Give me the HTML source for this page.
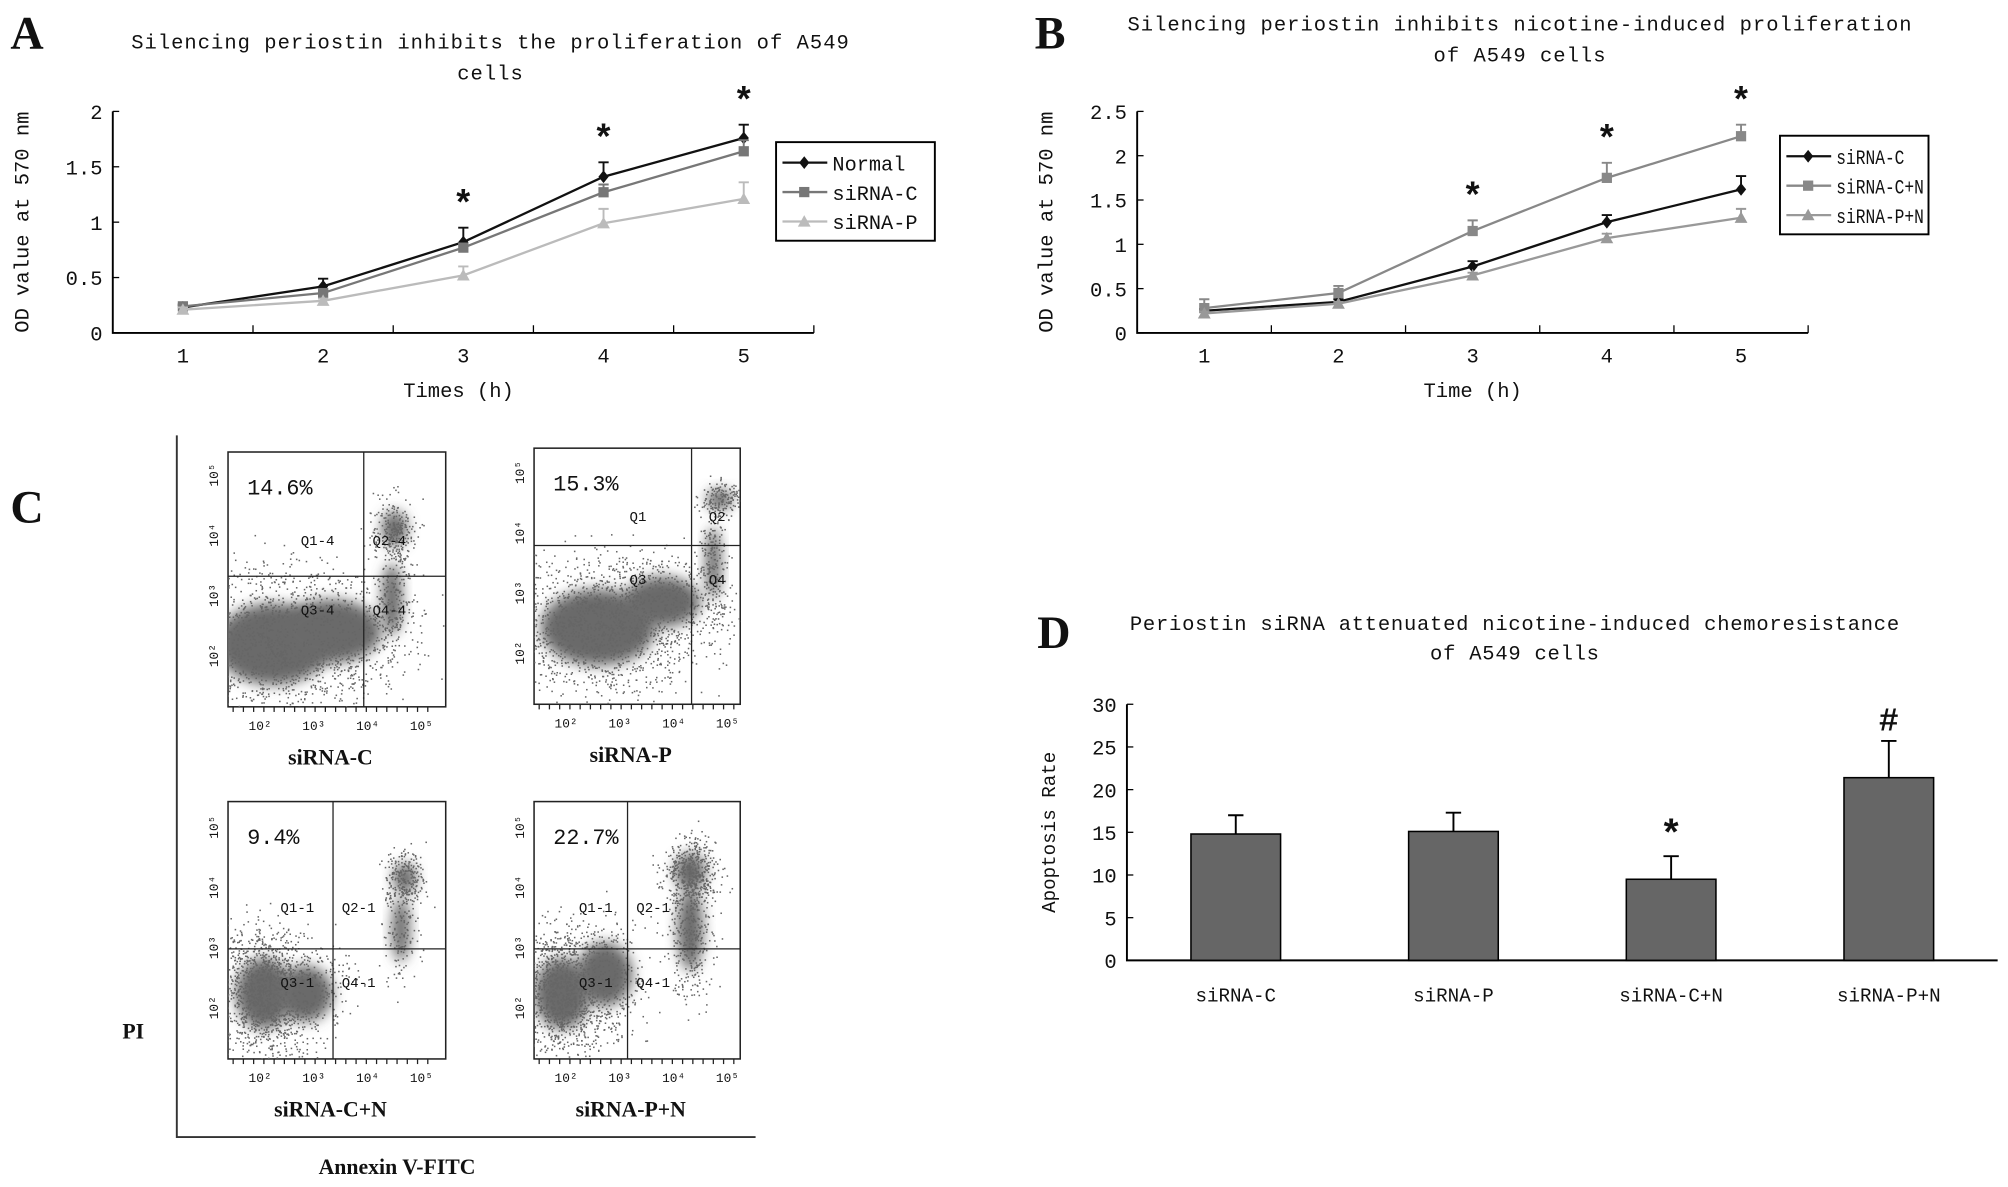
<!DOCTYPE html>
<html><head><meta charset="utf-8"><style>
html,body{margin:0;padding:0;background:#fff;}
svg{display:block;}
text{font-family:"Liberation Mono",monospace;fill:#111;}
.serif{font-family:"Liberation Serif",serif;font-weight:bold;}
</style></head><body>
<svg id="fig" xmlns="http://www.w3.org/2000/svg" width="2008" height="1187" viewBox="0 0 1568 927">
<defs><filter id="blur" x="-50%" y="-50%" width="200%" height="200%"><feGaussianBlur stdDeviation="5"/></filter></defs>
<rect width="1568" height="927" fill="#fff"/>
<text class="serif" x="8" y="38" font-size="36">A</text>
<text class="serif" x="808" y="38" font-size="36">B</text>
<text class="serif" x="8" y="408" font-size="36">C</text>
<text class="serif" x="810" y="506" font-size="36">D</text>
<g id="gA"></g>
<g id="gB"></g>
<g id="gC"></g>
<g id="gD"></g>
</svg>
<script>
// ---- Panel A data ----
const catsA = [1,2,3,4,5];
const normalA = [0.23,0.42,0.82,1.41,1.76];
const normalErrA = [0.02,0.07,0.13,0.13,0.12];
const sircA = [0.24,0.36,0.77,1.27,1.64];
const sircErrA = [0.02,0.03,0.03,0.07,0.10];
const sirpA = [0.21,0.29,0.52,0.99,1.21];
const sirpErrA = [0.02,0.02,0.08,0.13,0.15];
const ticksA = [0,0.5,1,1.5,2];
const starsA = [3,4,5];
// ---- Panel B data ----
const catsB = [1,2,3,4,5];
const sircB = [0.25,0.35,0.75,1.25,1.62];
const sircErrB = [0.02,0.03,0.06,0.08,0.15];
const sircnB = [0.28,0.45,1.15,1.75,2.22];
const sircnErrB = [0.10,0.08,0.12,0.17,0.13];
const sirpnB = [0.22,0.33,0.65,1.07,1.30];
const sirpnErrB = [0.02,0.02,0.03,0.05,0.10];
const ticksB = [0,0.5,1,1.5,2,2.5];
const starsB = [3,4,5];
// ---- Panel D data ----
const catsD = ["siRNA-C","siRNA-P","siRNA-C+N","siRNA-P+N"];
const valsD = [14.8,15.1,9.5,21.4];
const errsD = [2.2,2.2,2.7,4.3];
const marksD = ["","","*","#"];
const ticksD = [0,5,10,15,20,25,30];

const NS="http://www.w3.org/2000/svg";
function el(parent,tag,attrs,txt){const e=document.createElementNS(NS,tag);for(const k in attrs)e.setAttribute(k,attrs[k]);if(txt!==undefined)e.textContent=txt;parent.appendChild(e);return e;}

function lineChart(g,cfg){
  const {x0,x1,y0,yTop,ymax,cats,ticks,series,stars,title,titleY,titleX,xTitle,xTitleX,yTitleX,legend}=cfg;
  const cw=(x1-x0)/cats.length;
  const X=i=>x0+(i+0.5)*cw;
  const Y=v=>y0-(v/ymax)*(y0-yTop);
  title.forEach((t,i)=>{const e=el(g,'text',{x:titleX,y:titleY+i*24,'font-size':16,'letter-spacing':0.8,'text-anchor':'middle'},t);
    
    });
  let a=el(g,'path',{d:`M${x0} ${Y(ticks[ticks.length-1])}V${y0}H${x1}`,stroke:'#000','stroke-width':1.5,fill:'none'});
  
  
  ticks.forEach(t=>{el(g,'line',{x1:x0,x2:x0+5,y1:Y(t),y2:Y(t),stroke:'#000'});
    const e=el(g,'text',{x:x0-8,y:Y(t)+6,'font-size':16,'text-anchor':'end'},String(t));
    
    });
  for(let i=1;i<=cats.length;i++) el(g,'line',{x1:x0+i*cw,x2:x0+i*cw,y1:y0,y2:y0-6,stroke:'#000'});
  cats.forEach((c,i)=>{const e=el(g,'text',{x:X(i),y:y0+23,'font-size':16,'text-anchor':'middle'},String(c));
    
    });
  let xt=el(g,'text',{x:xTitleX,y:y0+50,'font-size':16,'text-anchor':'middle'},xTitle);
  
  
  let yt=el(g,'text',{x:yTitleX,y:(y0+yTop)/2,'font-size':16,'text-anchor':'middle',transform:`rotate(-90 ${yTitleX} ${(y0+yTop)/2})`},'OD value at 570 nm');
  
  
  series.forEach(s=>{
    const sg=el(g,'g',{});
    
    
    s.vals.forEach((v,i)=>{const top=Y(v+s.err[i]);
      el(sg,'path',{d:`M${X(i)} ${Y(v)}V${top}M${X(i)-4} ${top}H${X(i)+4}`,stroke:s.color,'stroke-width':1.5,fill:'none'});});
    el(sg,'polyline',{points:s.vals.map((v,i)=>X(i)+','+Y(v)).join(' '),stroke:s.color,'stroke-width':1.8,fill:'none'});
    s.vals.forEach((v,i)=>marker(sg,s.shape,X(i),Y(v),s.color));
  });
  stars.forEach(c=>{const i=cats.indexOf(c);const mx=Math.max(...series.map(s=>s.vals[i]+s.err[i]));
    const e=el(g,'text',{x:X(i),y:Y(mx)-10,'font-size':28,'font-weight':'bold','text-anchor':'middle','font-family':'Liberation Sans'},'*');
    
    });
  const lg=el(g,'g',{});
  
  
  el(lg,'rect',{x:legend.x,y:legend.y,width:legend.w,height:series.length*23+8,fill:'#fff',stroke:'#000','stroke-width':1.5});
  series.forEach((s,i)=>{const ly=legend.y+16+i*23;
    el(lg,'line',{x1:legend.x+5,x2:legend.x+40,y1:ly,y2:ly,stroke:s.color,'stroke-width':1.8});
    marker(lg,s.shape,legend.x+22,ly,s.color);
    const e=el(lg,'text',{x:legend.x+44,y:ly+6,'font-size':16,textLength:legend.tl*s.name.length,lengthAdjust:'spacingAndGlyphs'},s.name);
    
    });
}
function marker(g,shape,x,y,c){
  if(shape==='d') el(g,'path',{d:`M${x} ${y-5}L${x+4} ${y}L${x} ${y+5}L${x-4} ${y}Z`,fill:c});
  else if(shape==='s') el(g,'rect',{x:x-4,y:y-4,width:8,height:8,fill:c});
  else el(g,'path',{d:`M${x} ${y-5}L${x+5} ${y+4}L${x-5} ${y+4}Z`,fill:c});
}
lineChart(document.getElementById('gA'),{x0:88,x1:635.5,y0:260,yTop:87,ymax:2,cats:catsA,ticks:ticksA,stars:starsA,
  title:['Silencing periostin inhibits the proliferation of A549','cells'],titleX:383,titleY:38,xTitle:'Times (h)',xTitleX:358,yTitleX:22,
  legend:{x:606,y:111,w:124,tl:9.5},
  series:[{name:'Normal',vals:normalA,err:normalErrA,color:'#111',shape:'d'},
          {name:'siRNA-C',vals:sircA,err:sircErrA,color:'#777',shape:'s'},
          {name:'siRNA-P',vals:sirpA,err:sirpErrA,color:'#bbb',shape:'t'}]});
lineChart(document.getElementById('gB'),{x0:888,x1:1412,y0:260,yTop:87,ymax:2.5,cats:catsB,ticks:ticksB,stars:starsB,
  title:['Silencing periostin inhibits nicotine-induced proliferation','of A549 cells'],titleX:1187,titleY:24,xTitle:'Time (h)',xTitleX:1150,yTitleX:822,
  legend:{x:1390,y:106,w:116,tl:7.6},
  series:[{name:'siRNA-C',vals:sircB,err:sircErrB,color:'#111',shape:'d'},
          {name:'siRNA-C+N',vals:sircnB,err:sircnErrB,color:'#888',shape:'s'},
          {name:'siRNA-P+N',vals:sirpnB,err:sirpnErrB,color:'#999',shape:'t'}]});

// ---- Panel D ----
(function(){
  const g=document.getElementById('gD');
  const x0=880,x1=1560,y0=750,yTop=550,ymax=30;
  const cw=(x1-x0)/catsD.length;
  const X=i=>x0+(i+0.5)*cw;const Y=v=>y0-v/ymax*(y0-yTop);
  ['Periostin siRNA attenuated nicotine-induced chemoresistance','of A549 cells'].forEach((t,i)=>{
    const e=el(g,'text',{x:1183,y:492+i*23,'font-size':16,'letter-spacing':0.6,'text-anchor':'middle'},t);
    
    });
  const ax=el(g,'path',{d:`M${x0} ${yTop}V${y0}H${x1}`,stroke:'#000','stroke-width':1.5,fill:'none'});
  
  
  ticksD.forEach(t=>{el(g,'line',{x1:x0,x2:x0+5,y1:Y(t),y2:Y(t),stroke:'#000'});
    const e=el(g,'text',{x:x0-8,y:Y(t)+6,'font-size':16,'text-anchor':'end'},String(t));
    
    });
  const yt=el(g,'text',{x:824,y:650,'font-size':15,'text-anchor':'middle',transform:'rotate(-90 824 650)'},'Apoptosis Rate');
  
  
  catsD.forEach((c,i)=>{
    const b=el(g,'rect',{x:X(i)-35,y:Y(valsD[i]),width:70,height:y0-Y(valsD[i]),fill:'#666',stroke:'#000','stroke-width':1.2});
    
    
    const top=Y(valsD[i]+errsD[i]);
    el(g,'path',{d:`M${X(i)} ${Y(valsD[i])}V${top}M${X(i)-6} ${top}H${X(i)+6}`,stroke:'#000','stroke-width':1.5,fill:'none'});
    const t=el(g,'text',{x:X(i),y:y0+32,'font-size':15,'text-anchor':'middle'},c);
    
    
    if(marksD[i]){const m=el(g,'text',{x:X(i),y:top-8,'font-size':marksD[i]==='#'?26:30,'font-weight':'bold','text-anchor':'middle','font-family':'Liberation Sans'},marksD[i]);
      
      }
  });
})();

// ---- Panel C (decorative flow cytometry plots) ----
(function(){
  const g=document.getElementById('gC');
  el(g,'path',{d:'M138 340V888H590',stroke:'#333','stroke-width':1.5,fill:'none'});
  let seed=7;const rnd=()=>{seed=(seed*16807)%2147483647;return seed/2147483647;};
  const gauss=()=>{let s=0;for(let k=0;k<4;k++)s+=rnd();return (s-2)/0.58;};
  // blob: [cx, cy, rx, ry, dots]
  const plots=[
    {x:178,y:353,w:170,h:199,vx:106,hy:97,pct:'14.6%',lab:'siRNA-C',blobs:[[35,150,45,32,1400],[80,140,40,25,500],[130,60,10,14,250],[128,115,8,28,200]]},
    {x:417,y:350,w:161,h:200,vx:123,hy:76,pct:'15.3%',lab:'siRNA-P',blobs:[[50,140,45,30,1400],[100,120,30,20,500],[145,40,10,8,150],[140,90,6,28,200]]},
    {x:178,y:626,w:170,h:201,vx:82,hy:115,pct:'9.4%',lab:'siRNA-C+N',blobs:[[28,150,22,28,1300],[60,150,22,22,300],[138,60,9,12,250],[135,100,7,25,150]]},
    {x:417,y:626,w:161,h:201,vx:73,hy:115,pct:'22.7%',lab:'siRNA-P+N',blobs:[[22,150,22,28,1300],[55,135,22,25,300],[122,55,12,15,450],[122,100,10,32,400]]}
  ];
  const quads=[['Q1-4','Q2-4','Q3-4','Q4-4'],['Q1','Q2','Q3','Q4'],['Q1-1','Q2-1','Q3-1','Q4-1'],['Q1-1','Q2-1','Q3-1','Q4-1']];
  plots.forEach((p,pi)=>{
    const pg=el(g,'g',{});
    
    
    el(pg,'rect',{x:p.x,y:p.y,width:p.w,height:p.h,fill:'#fff',stroke:'#222','stroke-width':1.2});
    const cp='cp'+pi;const d=el(pg,'clipPath',{id:cp});el(d,'rect',{x:p.x,y:p.y,width:p.w,height:p.h});
    const dg=el(pg,'g',{'clip-path':`url(#${cp})`,fill:'#666'});
    p.blobs.forEach(b=>{
      el(dg,'ellipse',{cx:p.x+b[0],cy:p.y+b[1],rx:b[2],ry:b[3],fill:'#6a6a6a',filter:'url(#blur)'});
      for(let k=0;k<b[4];k++){el(dg,'rect',{x:p.x+b[0]+gauss()*b[2]*0.9,y:p.y+b[1]+gauss()*b[3]*0.9,width:1.2,height:1.2});}
    });
    el(pg,'line',{x1:p.x+p.vx,x2:p.x+p.vx,y1:p.y,y2:p.y+p.h,stroke:'#222'});
    el(pg,'line',{x1:p.x,x2:p.x+p.w,y1:p.y+p.hy,y2:p.y+p.hy,stroke:'#222'});
    const pc=el(pg,'text',{x:p.x+15,y:p.y+33,'font-size':17,'font-family':'Liberation Serif'},p.pct);
    
    
    const q=quads[pi];
    [[p.vx*0.66,p.hy*0.75],[p.vx+20,p.hy*0.75],[p.vx*0.66,p.hy+30],[p.vx+20,p.hy+30]].forEach((o,k)=>{
      el(pg,'text',{x:p.x+o[0],y:p.y+o[1],'font-size':11,'font-family':'Liberation Sans','text-anchor':'middle',fill:'#333'},q[k]);});
    ['10²','10³','10⁴','10⁵'].forEach((t,k)=>{
      el(pg,'text',{x:p.x+25+k*42,y:p.y+p.h+18,'font-size':10,'font-family':'Liberation Sans','text-anchor':'middle'},t);
      el(pg,'text',{x:p.x-8,y:p.y+p.h-40-k*47,'font-size':10,'font-family':'Liberation Sans','text-anchor':'middle',transform:`rotate(-90 ${p.x-8} ${p.y+p.h-40-k*47})`},t);
    });
    for(let k=0;k<20;k++){el(pg,'line',{x1:p.x+4+k*8,x2:p.x+4+k*8,y1:p.y+p.h,y2:p.y+p.h+4,stroke:'#222'});}
    const lb=el(pg,'text',{x:p.x+p.w/2-5,y:p.y+p.h+45,'font-size':17,'text-anchor':'middle','class':'serif'},p.lab);
    
    
  });
  const pi=el(g,'text',{x:104,y:811,'font-size':17,'class':'serif','text-anchor':'middle'},'PI');
  
  
  const an=el(g,'text',{x:310,y:917,'font-size':17,'class':'serif','text-anchor':'middle'},'Annexin V-FITC');
  
  
})();
</script>
</body></html>
